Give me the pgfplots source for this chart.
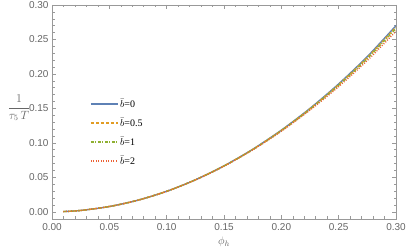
\documentclass[border=0pt]{standalone}
\usepackage{pgfplots}
\pgfplotsset{compat=1.18}
\usepackage{fontspec}
\setmainfont{Liberation Serif}
\newfontfamily\ticksans{Liberation Sans}
\definecolor{mBlue}{rgb}{0.368417,0.506779,0.709798}
\definecolor{mOrange}{rgb}{0.880722,0.611041,0.142051}
\definecolor{mGreen}{rgb}{0.560181,0.691569,0.194885}
\definecolor{mRed}{rgb}{0.922526,0.385626,0.209179}
\definecolor{frameGray}{gray}{0.6}
\definecolor{labGray}{gray}{0.4}
\begin{document}
\begin{tikzpicture}
\begin{axis}[
  scale only axis,
  width=344bp, height=214bp,
  xmin=0, xmax=0.30, ymin=-0.0105, ymax=0.30,
  xtick={0,0.05,0.10,0.15,0.20,0.25,0.30},
  ytick={0,0.05,0.10,0.15,0.20,0.25,0.30},
  minor tick num=4,
  tick align=inside,
  major tick length=4bp, minor tick length=2.5bp,
  axis line style={frameGray, line width=0.6bp},
  every tick/.style={frameGray, line width=0.5bp},
  /pgf/number format/assume math mode=true,
  /pgf/number format/fixed,
  /pgf/number format/fixed zerofill,
  /pgf/number format/precision=2,
  ticklabel style={font=\ticksans\fontsize{10bp}{12bp}\selectfont, text=labGray},
  xticklabel style={yshift=-1bp},
  xlabel={$\phi_h$},
  ylabel={$\displaystyle\frac{1}{\tau_5\,T}$},
  every axis x label/.style={at={(rel axis cs:0.5,0)}, yshift=-23bp, anchor=center, text=labGray, font=\fontsize{11bp}{13bp}\selectfont},
  every axis y label/.style={at={(rel axis cs:0,0.5)}, xshift=-33bp, yshift=4bp, anchor=center, text=labGray, font=\fontsize{11.5bp}{14bp}\selectfont},
  legend style={draw=none, fill=none, at={(rel axis cs:0.11,0.567)}, anchor=north west,
    font=\fontsize{10bp}{12bp}\selectfont, row sep=7bp, inner sep=0pt,
    nodes={inner sep=1.5bp, text height=8bp, text depth=1bp}},
  legend cell align=left,
  legend image code/.code={\draw[#1, line width=1.6bp] (0bp,0bp) -- (27bp,0bp);},
  every axis plot/.append style={line width=1.4bp},
]
\addplot[color=mBlue, smooth] coordinates {
(0.01,0.0003)(0.025,0.0019)(0.05,0.0076)(0.075,0.0168)(0.10,0.0297)(0.125,0.0463)
(0.15,0.0666)(0.175,0.0906)(0.20,0.1184)(0.225,0.1500)(0.25,0.1855)(0.275,0.2252)(0.30,0.2700)};
\addlegendentry{$\bar{b}\textrm{=0}$}
\addplot[color=mOrange, smooth, dash pattern=on 3bp off 2bp] coordinates {
(0.01,0.0003)(0.025,0.0019)(0.05,0.0076)(0.075,0.0168)(0.10,0.0297)(0.125,0.0463)
(0.15,0.0665)(0.175,0.0904)(0.20,0.1180)(0.225,0.1494)(0.25,0.1845)(0.275,0.2238)(0.30,0.2680)};
\addlegendentry{$\bar{b}\textrm{=0.5}$}
\addplot[color=mGreen, smooth, dash pattern=on 3bp off 1.5bp on 1bp off 1.5bp] coordinates {
(0.01,0.0003)(0.025,0.0019)(0.05,0.0076)(0.075,0.0168)(0.10,0.0297)(0.125,0.0462)
(0.15,0.0664)(0.175,0.0901)(0.20,0.1176)(0.225,0.1487)(0.25,0.1835)(0.275,0.2224)(0.30,0.2660)};
\addlegendentry{$\bar{b}\textrm{=1}$}
\addplot[color=mRed, smooth, dash pattern=on 1bp off 1.5bp] coordinates {
(0.01,0.0003)(0.025,0.0019)(0.05,0.0076)(0.075,0.0168)(0.10,0.0296)(0.125,0.0461)
(0.15,0.0661)(0.175,0.0897)(0.20,0.1168)(0.225,0.1475)(0.25,0.1816)(0.275,0.2196)(0.30,0.2620)};
\addlegendentry{$\bar{b}\textrm{=2}$}
\end{axis}
\pgfresetboundingbox
\path[use as bounding box] (-52bp,-32bp) rectangle (355bp,219bp);
\end{tikzpicture}
\end{document}
